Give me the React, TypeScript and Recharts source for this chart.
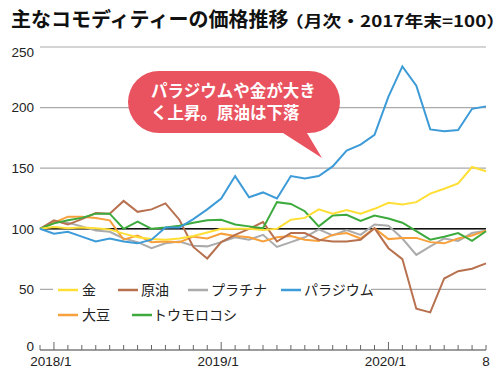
import React from 'react';
import { LineChart, Line, XAxis, YAxis, CartesianGrid, ReferenceLine } from 'recharts';

const months = [
  '2017/12', '2018/1', '2018/2', '2018/3', '2018/4', '2018/5', '2018/6', '2018/7', '2018/8', '2018/9', '2018/10', '2018/11', '2018/12',
  '2019/1', '2019/2', '2019/3', '2019/4', '2019/5', '2019/6', '2019/7', '2019/8', '2019/9', '2019/10', '2019/11', '2019/12',
  '2020/1', '2020/2', '2020/3', '2020/4', '2020/5', '2020/6', '2020/7', '2020/8',
];

const gold = [100, 101.5, 100.5, 101, 100.5, 99.5, 96, 93, 91.5, 91, 92, 94, 97, 100, 100, 100, 99, 100, 107.5, 109, 116, 112.5, 115.5, 112.5, 116.5, 121.5, 120, 122, 129, 133, 137.5, 151, 147.5];
const crudeOil = [100, 107, 103.5, 108, 113, 112.5, 123, 114, 116, 121, 107.5, 85, 75.5, 89, 95, 100, 105.5, 89.5, 96.5, 96.5, 91, 89.5, 89.5, 91, 100.5, 84, 75, 34, 31, 59, 65, 67, 71.5];
const platinum = [100, 106, 105, 102, 98.5, 97.5, 92, 89, 84, 88, 89.5, 86, 85.5, 89, 93, 91, 95, 85, 89, 93, 99.5, 94.5, 99, 95, 103.5, 102.5, 92, 78.5, 85.5, 92, 90, 96.5, 98.5];
const palladium = [100, 96, 97.5, 93.5, 89.5, 92, 89.5, 88, 91, 101, 101, 108, 116, 125, 143.5, 126, 130, 125, 143.5, 141.5, 143.5, 151.5, 164.5, 169.5, 177.5, 209, 234, 218, 182, 180.5, 181.5, 199, 201];
const soybean = [100, 105, 110, 110, 109, 107, 91, 94.5, 89, 89.5, 89, 93.5, 92, 96, 94, 93, 89.5, 93, 94, 91, 90, 95, 96.5, 92, 100.5, 91.5, 92.5, 92.5, 89, 88, 92, 94.5, 98.5];
const corn = [100, 104.5, 107, 109, 112.5, 112.5, 100, 106, 100, 101, 102.5, 105, 107, 107.5, 103.5, 102, 100.5, 122, 120.5, 114.5, 102, 111, 111.5, 106.5, 111, 108.5, 105, 98, 91, 93.5, 96.5, 90, 98];

const xTickLabels: Record<string, string> = { '2018/1': '2018/1', '2019/1': '2019/1', '2020/1': '2020/1', '2020/8': '8' };
const yTicks = [0, 50, 100, 150, 200, 250];

const COLORS: Record<string, string> = {
  金: '#FFDF35',
  原油: '#B8714F',
  プラチナ: '#ABABAB',
  パラジウム: '#3D9BD8',
  大豆: '#F7A03C',
  トウモロコシ: '#3DAA3D',
};

const data = months.map((m, i) => ({
  idx: i,
  month: m,
  金: gold[i],
  原油: crudeOil[i],
  プラチナ: platinum[i],
  パラジウム: palladium[i],
  大豆: soybean[i],
  トウモロコシ: corn[i],
}));

const NUM_FONT = '"Liberation Sans", Arial, sans-serif';
const JP_FONT = '"Noto Sans CJK JP", "Noto Sans", sans-serif';

const XTick = (props: any) => {
  const { x, y, payload } = props;
  const m = months[payload.value];
  const label = xTickLabels[m];
  const tall = m && m.endsWith('/1');
  return (
    <g>
      <line x1={x} x2={x} y1={y} y2={y - (tall ? 8 : 5)} stroke="#666" strokeWidth={1} />
      {label && (
        <text x={label === '8' ? x : x - 3} y={y + 16} textAnchor="middle" fontFamily={NUM_FONT} fontSize={13.5} fill="#222">
          {label}
        </text>
      )}
    </g>
  );
};

const YTick = (props: any) => {
  const { x, y, payload } = props;
  const v = payload.value;
  const shift = v === 250 ? 5 : v === 0 ? -4 : 0;
  return (
    <text x={x} y={y + shift} dy="0.36em" textAnchor="end" fontFamily={NUM_FONT} fontSize={13.5} fill="#222">
      {v}
    </text>
  );
};

const legendRows = [
  { y: 290, items: [
    { name: '金', lx: 58, tx: 82 },
    { name: '原油', lx: 118, tx: 141 },
    { name: 'プラチナ', lx: 188, tx: 211 },
    { name: 'パラジウム', lx: 281, tx: 304 },
  ] },
  { y: 315, items: [
    { name: '大豆', lx: 58, tx: 82 },
    { name: 'トウモロコシ', lx: 132, tx: 153 },
  ] },
];

const Overlay = () => (
  <svg width={500} height={376} style={{ position: 'absolute', left: 0, top: 0, pointerEvents: 'none' }}>
    <text x={11} y={27} fontFamily={JP_FONT} fontWeight={700} fontSize={20} fill="#111">
      主なコモディティーの価格推移
    </text>
    <text x={285} y={27} fontFamily={JP_FONT} fontWeight={700} fontSize={15.5} fill="#111" textLength={220} lengthAdjust="spacingAndGlyphs">
      （月次・2017年末=100）
    </text>

    <rect x={53} y={283} width={318} height={14} fill="#fff" />
    {legendRows.map((row) =>
      row.items.map((it) => (
        <g key={it.name}>
          <line x1={it.lx} x2={it.lx + 20} y1={row.y} y2={row.y} stroke={COLORS[it.name]} strokeWidth={2.5} />
          <text x={it.tx} y={row.y + 5} fontFamily={JP_FONT} fontSize={14} fill="#222">
            {it.name}
          </text>
        </g>
      ))
    )}

    <path
      d="M 159 71 H 309 A 31 31 0 0 1 309 133 H 307 L 322 158 L 283 133 H 159 A 31 31 0 0 1 159 71 Z"
      fill="#E9535F"
    />
    <text x={151} y={97} fontFamily={JP_FONT} fontWeight={700} fontSize={16.5} fill="#fff">
      パラジウムや金が大き
    </text>
    <text x={151} y={119} fontFamily={JP_FONT} fontWeight={700} fontSize={16.5} fill="#fff">
      く上昇。原油は下落
    </text>
  </svg>
);

const drawOrder = ['プラチナ', '大豆', '原油', 'トウモロコシ', '金', 'パラジウム'];

export default function App() {
  return (
    <div style={{ position: 'absolute', left: 0, top: 0, width: 500, height: 376, background: '#fff' }}>
      <LineChart width={500} height={376} data={data} margin={{ top: 47, right: 14, bottom: 0, left: 0 }}>
        <CartesianGrid horizontal vertical={false} stroke="#AAAAAA" strokeWidth={1.2} />
        <XAxis
          dataKey="idx"
          type="number"
          domain={[0, 32]}
          ticks={months.map((_, i) => i)}
          interval={0}
          height={26}
          tickSize={0}
          tickMargin={0}
          tickLine={false}
          axisLine={{ stroke: '#666', strokeWidth: 1 }}
          tick={XTick}
          allowDecimals={false}
        />
        <YAxis
          domain={[0, 250]}
          ticks={yTicks}
          width={40}
          tickSize={0}
          tickMargin={6}
          axisLine={false}
          tickLine={false}
          tick={YTick}
          interval={0}
        />
        <ReferenceLine y={100} stroke="#111" strokeWidth={1.5} />
        {drawOrder.map((name) => (
          <Line
            key={name}
            type="linear"
            dataKey={name}
            stroke={COLORS[name]}
            strokeWidth={2}
            dot={false}
            activeDot={false}
            isAnimationActive={false}
          />
        ))}
      </LineChart>
      <Overlay />
    </div>
  );
}
